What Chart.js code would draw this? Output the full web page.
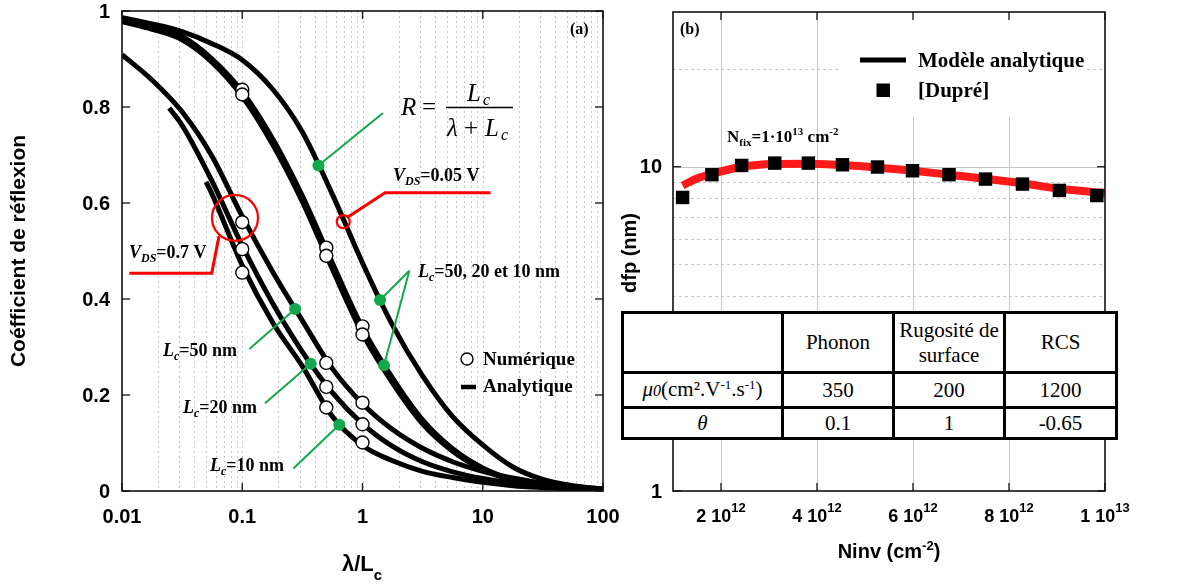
<!DOCTYPE html>
<html>
<head>
<meta charset="utf-8">
<script src="https://cdn.jsdelivr.net/npm/chart.js@4.4.0/dist/chart.umd.min.js"></script>
<style>
  body { margin: 0; background: #fff; width: 1199px; height: 585px; position: relative; overflow: hidden; }
  #chartA { position: absolute; left: 0; top: 0; }
  #chartB { position: absolute; left: 620px; top: 0; }
  #tbl { position: absolute; left: 621px; top: 311px; border-collapse: collapse; table-layout: fixed;
         font-family: "Liberation Serif", serif; font-size: 21px; background: #fff; }
  #tbl td { border: 3px solid #000; text-align: center; padding: 0; line-height: 25px; }
  #tbl sup { font-size: 13px; line-height: 0; vertical-align: 7px; }
</style>
</head>
<body>
<canvas id="chartA" width="620" height="585"></canvas>
<canvas id="chartB" width="579" height="585"></canvas>
<table id="tbl">
  <tr style="height:60px"><td style="width:157px"></td><td style="width:108px">Phonon</td><td style="width:108px">Rugosité de<br>surface</td><td style="width:109px">RCS</td></tr>
  <tr style="height:35px"><td><i>μ<span style="font-size:16px">0</span></i>(cm².V<sup>-1</sup>.s<sup>-1</sup>)</td><td>350</td><td>200</td><td>1200</td></tr>
  <tr style="height:31px"><td><i>θ</i></td><td>0.1</td><td>1</td><td>-0.65</td></tr>
</table>
<script>
// ---------- (a) reflexion coefficient vs lambda/Lc ----------
// x positions, quarter-decade steps
var lamX = [0.01, 0.0178, 0.0316, 0.0562, 0.1, 0.178, 0.316, 0.562, 1, 1.78, 3.16, 5.62, 10, 17.8, 31.6, 56.2, 100];
// VDS = 0.05 V : one single curve + two almost overlapping ones
var v005a_y = [0.986, 0.973, 0.957, 0.932, 0.898, 0.838, 0.748, 0.618, 0.475, 0.345, 0.24, 0.155, 0.096, 0.05, 0.024, 0.011, 0.004];
var v005b_y = [0.982, 0.967, 0.947, 0.9, 0.832, 0.735, 0.615, 0.475, 0.34, 0.235, 0.148, 0.088, 0.048, 0.024, 0.011, 0.005, 0.002];
var v005c_y = [0.978, 0.962, 0.94, 0.893, 0.822, 0.723, 0.603, 0.462, 0.328, 0.225, 0.14, 0.083, 0.045, 0.022, 0.01, 0.005, 0.002];
// VDS = 0.7 V : Lc = 50, 20, 10 nm
var v07_50_y = [0.909, 0.856, 0.79, 0.697, 0.572, 0.458, 0.355, 0.255, 0.182, 0.128, 0.089, 0.061, 0.041, 0.027, 0.016, 0.009, 0.004];
var v07_20_x = [0.0247, 0.0316, 0.0562, 0.1, 0.178, 0.316, 0.562, 1, 1.78, 3.16, 5.62, 10, 17.8, 31.6, 56.2, 100];
var v07_20_y = [0.798, 0.762, 0.645, 0.511, 0.392, 0.29, 0.205, 0.14, 0.093, 0.061, 0.04, 0.026, 0.016, 0.01, 0.006, 0.003];
var v07_10_x = [0.05, 0.0562, 0.1, 0.178, 0.316, 0.562, 1, 1.78, 3.16, 5.62, 10, 17.8, 31.6, 56.2, 100];
var v07_10_y = [0.644, 0.618, 0.47, 0.352, 0.26, 0.155, 0.095, 0.063, 0.041, 0.028, 0.018, 0.011, 0.007, 0.004, 0.002];
// numerical points (white circles)
var num_x = [0.1, 0.1, 0.5, 0.5, 1, 1, 0.1, 0.5, 1, 0.1, 0.5, 1, 0.1, 0.5, 1];
var num_y = [0.836, 0.826, 0.507, 0.49, 0.343, 0.326, 0.56, 0.267, 0.184, 0.504, 0.217, 0.139, 0.455, 0.174, 0.101];
// green label dots
var green_x = [0.43, 1.40, 1.51, 0.275, 0.371, 0.641];
var green_y = [0.678, 0.398, 0.262, 0.379, 0.265, 0.138];
var green_end = [[1.48, 0.7875], [2.45, 0.459], [2.45, 0.459], [0.1146, 0.296], [0.1545, 0.183], [0.266, 0.047]];

var xTicksA = [0.01, 0.1, 1, 10, 100];
var xLabelsA = ['0.01', '0.1', '1', '10', '100'];
var yTicksA = [0, 0.2, 0.4, 0.6, 0.8, 1];
var yLabelsA = ['0', '0.2', '0.4', '0.6', '0.8', '1'];

// ---------- (b) dfp vs Ninv ----------
var model_x = [1.2e12, 1.5e12, 1.81e12, 2.43e12, 3.1e12, 3.8e12, 4.5e12, 5.25e12, 6e12, 6.75e12, 7.5e12, 8.3e12, 9.05e12, 1e13];
var model_y = [8.75, 9.2, 9.5, 10.0, 10.2, 10.22, 10.12, 9.95, 9.72, 9.45, 9.18, 8.88, 8.55, 8.3];
var dupre_x = [1.2e12, 1.81e12, 2.43e12, 3.12e12, 3.82e12, 4.53e12, 5.26e12, 5.99e12, 6.75e12, 7.51e12, 8.28e12, 9.05e12, 9.83e12];
var dupre_y = [8.04, 9.45, 10.09, 10.26, 10.26, 10.14, 9.98, 9.72, 9.45, 9.16, 8.84, 8.45, 8.15];

var xTicksB = [2e12, 4e12, 6e12, 8e12, 1e13];
var xLabelsB = [['2 10', '12'], ['4 10', '12'], ['6 10', '12'], ['8 10', '12'], ['1 10', '13']];
var yTicksB = [1, 10];
var yLabelsB = ['1', '10'];

var SERIF = '"Liberation Serif", serif';
var SANS = '"Liberation Sans", Arial, sans-serif';
var GREEN = '#12a84b';

function pts(xs, ys) { return xs.map(function (v, i) { return { x: v, y: ys[i] }; }); }

// draw text made of runs [text, font, dy]
function rich(ctx, x, y, parts, align) {
  var w = 0;
  parts.forEach(function (p) { ctx.font = p[1]; w += ctx.measureText(p[0]).width; });
  var cx = align === 'center' ? x - w / 2 : (align === 'right' ? x - w : x);
  parts.forEach(function (p) {
    ctx.font = p[1];
    ctx.fillText(p[0], cx, y + (p[2] || 0));
    cx += ctx.measureText(p[0]).width;
  });
}

function seg(ctx, x1, y1, x2, y2) { ctx.beginPath(); ctx.moveTo(x1, y1); ctx.lineTo(x2, y2); ctx.stroke(); }

function curve(xs, ys) {
  return { data: pts(xs, ys), borderColor: '#000', borderWidth: 5, pointRadius: 0,
           cubicInterpolationMode: 'monotone', fill: false, order: 3 };
}

function lcLabel(size) {
  return [['L', 'italic bold ' + size + 'px ' + SERIF], ['c', 'italic bold ' + Math.round(size * 0.65) + 'px ' + SERIF, 4]];
}

var panelA = {
  id: 'panelA',
  beforeDatasetsDraw: function (ch) {
    var ctx = ch.ctx, a = ch.chartArea, sx = ch.scales.x;
    ctx.save();
    ctx.strokeStyle = '#c6c6c6'; ctx.lineWidth = 1; ctx.setLineDash([2, 3]);
    for (var d = 0.01; d < 100; d *= 10) {
      for (var k = 1; k <= 9; k++) {
        var v = d * k;
        if (v <= 0.0100001) continue;
        var px = Math.round(sx.getPixelForValue(v)) + 0.5;
        seg(ctx, px, a.top, px, a.bottom);
      }
    }
    ctx.restore();
  },
  afterDatasetsDraw: function (ch) {
    var ctx = ch.ctx, sx = ch.scales.x, sy = ch.scales.y;
    function X(v) { return sx.getPixelForValue(v); }
    function Y(v) { return sy.getPixelForValue(v); }
    ctx.save();
    // green leader lines
    ctx.strokeStyle = GREEN; ctx.lineWidth = 2;
    green_x.forEach(function (gx, i) {
      seg(ctx, X(gx), Y(green_y[i]), X(green_end[i][0]), Y(green_end[i][1]));
    });
    // red markers
    ctx.strokeStyle = '#ff0000'; ctx.lineWidth = 2.2;
    ctx.beginPath(); ctx.arc(X(0.087), Y(0.569), 23, 0, Math.PI * 2); ctx.stroke();
    ctx.beginPath(); ctx.moveTo(X(0.0641), Y(0.531)); ctx.lineTo(X(0.0557), Y(0.4535)); ctx.lineTo(X(0.0115), Y(0.4535)); ctx.lineWidth = 3; ctx.stroke();
    ctx.lineWidth = 2.2;
    ctx.beginPath(); ctx.arc(X(0.692), Y(0.561), 6.5, 0, Math.PI * 2); ctx.stroke();
    ctx.beginPath(); ctx.moveTo(X(0.757), Y(0.571)); ctx.lineTo(X(1.54), Y(0.6215)); ctx.lineTo(X(11.6), Y(0.6215)); ctx.lineWidth = 3; ctx.stroke();
    ctx.restore();
  },
  afterDraw: function (ch) {
    var ctx = ch.ctx, a = ch.chartArea, sx = ch.scales.x, sy = ch.scales.y;
    ctx.save();
    // frame + inward ticks
    ctx.strokeStyle = '#111'; ctx.lineWidth = 1.6; ctx.setLineDash([]);
    ctx.strokeRect(a.left, a.top, a.right - a.left, a.bottom - a.top);
    ctx.lineWidth = 1.3;
    xTicksA.forEach(function (v) {
      var px = sx.getPixelForValue(v);
      seg(ctx, px, a.bottom, px, a.bottom - 8); seg(ctx, px, a.top, px, a.top + 8);
    });
    yTicksA.forEach(function (v) {
      var py = sy.getPixelForValue(v);
      seg(ctx, a.left, py, a.left + 8, py); seg(ctx, a.right, py, a.right - 8, py);
    });
    // tick labels
    ctx.fillStyle = '#000';
    ctx.font = 'bold 20px ' + SANS;
    ctx.textAlign = 'center'; ctx.textBaseline = 'alphabetic';
    xTicksA.forEach(function (v, i) { ctx.fillText(xLabelsA[i], sx.getPixelForValue(v), 523); });
    ctx.textAlign = 'right'; ctx.textBaseline = 'middle';
    yTicksA.forEach(function (v, i) { ctx.fillText(yLabelsA[i], 110, sy.getPixelForValue(v) + 1); });
    // axis titles
    ctx.save();
    ctx.translate(19, 251); ctx.rotate(-Math.PI / 2);
    ctx.textAlign = 'center'; ctx.textBaseline = 'middle';
    ctx.font = 'bold 21px ' + SANS;
    ctx.fillText('Coéfficient de réflexion', 0, 0);
    ctx.restore();
    ctx.textAlign = 'left'; ctx.textBaseline = 'alphabetic';
    rich(ctx, 362, 571, [['λ/L', 'bold 22px ' + SANS], ['c', 'bold 15px ' + SANS, 9]], 'center');
    // panel tag
    ctx.font = 'bold 16px ' + SERIF;
    ctx.fillText('(a)', 570, 34);
    // formula
    ctx.font = 'italic 25px ' + SERIF; ctx.fillText('R', 401, 115);
    ctx.font = '25px ' + SERIF; ctx.fillText('=', 422, 115);
    ctx.strokeStyle = '#000'; ctx.lineWidth = 1.3; seg(ctx, 446, 107.5, 513, 107.5);
    ctx.font = 'italic 25px ' + SERIF; ctx.fillText('L', 467, 101);
    ctx.font = 'italic 16px ' + SERIF; ctx.fillText('c', 483, 105);
    ctx.font = 'italic 25px ' + SERIF; ctx.fillText('λ', 447, 136);
    ctx.font = '25px ' + SERIF; ctx.fillText('+', 464, 136);
    ctx.font = 'italic 25px ' + SERIF; ctx.fillText('L', 485, 136);
    ctx.font = 'italic 16px ' + SERIF; ctx.fillText('c', 501, 140);
    // VDS labels
    var vds = function (val) {
      return [['V', 'italic bold 18px ' + SERIF], ['DS', 'italic bold 12px ' + SERIF, 4], ['=' + val + ' V', 'bold 18px ' + SERIF]];
    };
    rich(ctx, 393, 181, vds('0.05'));
    rich(ctx, 129, 258, vds('0.7'));
    // Lc labels
    rich(ctx, 418, 277, lcLabel(18).concat([['=50, 20 et 10 nm', 'bold 18px ' + SERIF]]));
    rich(ctx, 163, 356, lcLabel(18).concat([['=50 nm', 'bold 18px ' + SERIF]]));
    rich(ctx, 183, 413, lcLabel(18).concat([['=20 nm', 'bold 18px ' + SERIF]]));
    rich(ctx, 210, 471, lcLabel(18).concat([['=10 nm', 'bold 18px ' + SERIF]]));
    // legend
    ctx.fillStyle = '#fff'; ctx.strokeStyle = '#000'; ctx.lineWidth = 1.4;
    ctx.beginPath(); ctx.arc(467, 359, 6, 0, Math.PI * 2); ctx.fill(); ctx.stroke();
    ctx.lineWidth = 4.5; seg(ctx, 461, 387, 476, 387);
    ctx.fillStyle = '#000'; ctx.font = 'bold 19px ' + SERIF;
    ctx.fillText('Numérique', 483, 365);
    ctx.fillText('Analytique', 483, 392);
    ctx.restore();
  }
};

new Chart(document.getElementById('chartA'), {
  type: 'line',
  data: {
    datasets: [
      curve(lamX, v005a_y),
      curve(lamX, v005b_y),
      curve(lamX, v005c_y),
      curve(lamX, v07_50_y),
      curve(v07_20_x, v07_20_y),
      curve(v07_10_x, v07_10_y),
      { data: pts(num_x, num_y), showLine: false, pointStyle: 'circle', pointRadius: 6.5,
        pointBackgroundColor: '#fff', pointBorderColor: '#000', pointBorderWidth: 1.4, order: 2 },
      { data: pts(green_x, green_y), showLine: false, pointStyle: 'circle', pointRadius: 6,
        pointBackgroundColor: GREEN, pointBorderWidth: 0, order: 1 }
    ]
  },
  options: {
    responsive: false, animation: false, events: [],
    layout: { padding: { left: 122, right: 17, top: 11, bottom: 94 } },
    plugins: { legend: { display: false }, tooltip: { enabled: false } },
    scales: {
      x: { type: 'logarithmic', min: 0.01, max: 100, ticks: { display: false },
           grid: { display: false, drawTicks: false }, border: { display: false } },
      y: { type: 'linear', min: 0, max: 1, ticks: { display: false },
           grid: { display: false, drawTicks: false }, border: { display: false } }
    }
  },
  plugins: [panelA]
});

var panelB = {
  id: 'panelB',
  beforeDatasetsDraw: function (ch) {
    var ctx = ch.ctx, a = ch.chartArea, sx = ch.scales.x, sy = ch.scales.y;
    ctx.save();
    ctx.strokeStyle = '#c8c8c8'; ctx.lineWidth = 1;
    xTicksB.slice(0, 4).forEach(function (v) {
      var px = Math.round(sx.getPixelForValue(v)) + 0.5;
      seg(ctx, px, a.top, px, a.bottom);
    });
    ctx.setLineDash([3, 3]);
    [2, 3, 4, 5, 6, 7, 8, 9, 20].forEach(function (v) {
      var py = Math.round(sy.getPixelForValue(v)) + 0.5;
      seg(ctx, a.left, py, a.right, py);
    });
    ctx.setLineDash([]);
    var py10 = Math.round(sy.getPixelForValue(10)) + 0.5;
    seg(ctx, a.left, py10, a.right, py10);
    // legend background
    ctx.fillStyle = '#fff';
    ctx.fillRect(218, a.top + 1, 249, 104);
    ctx.restore();
  },
  afterDraw: function (ch) {
    var ctx = ch.ctx, a = ch.chartArea, sx = ch.scales.x, sy = ch.scales.y;
    ctx.save();
    ctx.strokeStyle = '#111'; ctx.lineWidth = 1.6;
    ctx.strokeRect(a.left, a.top, a.right - a.left, a.bottom - a.top);
    ctx.lineWidth = 1.3;
    xTicksB.forEach(function (v) {
      var px = sx.getPixelForValue(v);
      seg(ctx, px, a.bottom, px, a.bottom - 8); seg(ctx, px, a.top, px, a.top + 8);
    });
    yTicksB.forEach(function (v) {
      var py = sy.getPixelForValue(v);
      seg(ctx, a.left, py, a.left + 8, py); seg(ctx, a.right, py, a.right - 8, py);
    });
    ctx.fillStyle = '#000'; ctx.textBaseline = 'alphabetic'; ctx.textAlign = 'left';
    xTicksB.forEach(function (v, i) {
      rich(ctx, sx.getPixelForValue(v), 522, [[xLabelsB[i][0], 'bold 18px ' + SANS], [xLabelsB[i][1], 'bold 13px ' + SANS, -10]], 'center');
    });
    ctx.font = 'bold 20px ' + SANS; ctx.textAlign = 'right'; ctx.textBaseline = 'middle';
    yTicksB.forEach(function (v, i) { ctx.fillText(yLabelsB[i], 42, sy.getPixelForValue(v) + 1); });
    ctx.textAlign = 'left'; ctx.textBaseline = 'alphabetic';
    rich(ctx, 269, 558, [['Ninv (cm', 'bold 20px ' + SANS], ['-2', 'bold 13px ' + SANS, -8], [')', 'bold 20px ' + SANS]], 'center');
    ctx.save();
    ctx.translate(10, 253); ctx.rotate(-Math.PI / 2);
    ctx.textAlign = 'center'; ctx.textBaseline = 'middle';
    ctx.font = 'bold 20px ' + SANS;
    ctx.fillText('dfp (nm)', 0, 0);
    ctx.restore();
    ctx.font = 'bold 16px ' + SERIF;
    ctx.fillText('(b)', 60, 34);
    // legend
    ctx.strokeStyle = '#000'; ctx.lineWidth = 5; seg(ctx, 240, 60, 286, 60);
    ctx.fillRect(256.5, 83.5, 13.5, 13.5);
    ctx.font = 'bold 21px ' + SERIF;
    ctx.fillText('Modèle analytique', 298, 67);
    ctx.fillText('[Dupré]', 298, 97);
    rich(ctx, 107, 142, [['N', 'bold 17px ' + SERIF], ['fix', 'bold 11px ' + SERIF, 4], ['=1·10', 'bold 17px ' + SERIF],
      ['13', 'bold 11px ' + SERIF, -7], [' cm', 'bold 17px ' + SERIF], ['-2', 'bold 11px ' + SERIF, -7]]);
    ctx.restore();
  }
};

new Chart(document.getElementById('chartB'), {
  type: 'line',
  data: {
    datasets: [
      { data: pts(model_x, model_y), borderColor: '#ff1a1a', borderWidth: 8, pointRadius: 0,
        cubicInterpolationMode: 'monotone', fill: false, order: 2 },
      { data: pts(dupre_x, dupre_y), showLine: false, pointStyle: 'rect', pointRadius: 9.5,
        pointBackgroundColor: '#000', pointBorderWidth: 0, order: 1 }
    ]
  },
  options: {
    responsive: false, animation: false, events: [],
    layout: { padding: { left: 53, right: 94, top: 12, bottom: 94 } },
    plugins: { legend: { display: false }, tooltip: { enabled: false } },
    scales: {
      x: { type: 'linear', min: 1e12, max: 1e13, ticks: { display: false },
           grid: { display: false, drawTicks: false }, border: { display: false } },
      y: { type: 'logarithmic', min: 1, max: 30, ticks: { display: false },
           grid: { display: false, drawTicks: false }, border: { display: false } }
    }
  },
  plugins: [panelB]
});
</script>
</body>
</html>
